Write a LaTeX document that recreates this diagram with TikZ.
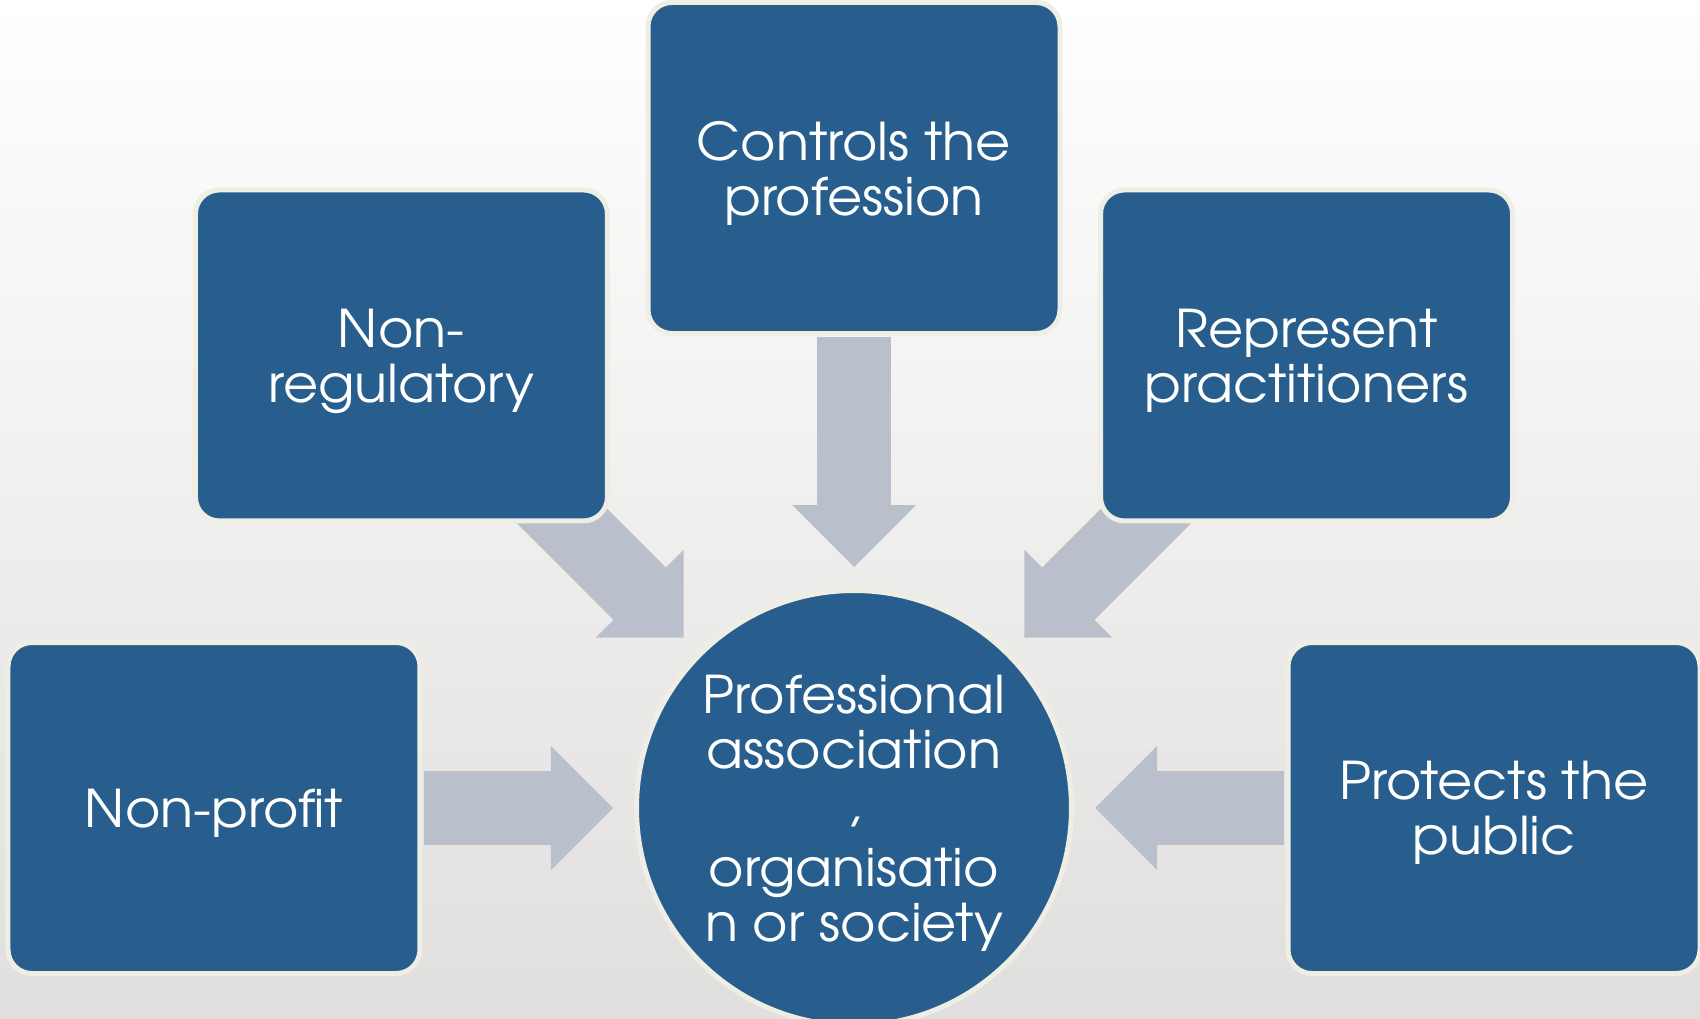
\documentclass[tikz,border=0pt]{standalone}
\usepackage{fontspec}
\setmainfont{texgyreadventor-regular.otf}[FakeStretch=1.04]
\usetikzlibrary{arrows.meta}

\definecolor{hubblue}{RGB}{40,94,142}
\definecolor{rimcream}{RGB}{239,238,229}
\definecolor{flowgray}{RGB}{185,191,203}
\definecolor{slidegray}{RGB}{224,223,221}

\pgfdeclarelayer{background}
\pgfsetlayers{background,main}

\begin{document}
\begin{tikzpicture}[
	box/.style = {draw=rimcream, line width=2.5pt, fill=hubblue, text=white,
		align=center, text depth=0pt, font=\fontsize{26}{27.5}\selectfont},
	item/.style = {box, rectangle, rounded corners=12pt, minimum width=206pt, minimum height=165.5pt},
	hub/.style = {box, circle, minimum size=217.5pt, inner sep=0pt},
	flow/.style = {draw=flowgray, line width=37pt,
		-{Triangle[width=62pt, length=31pt, line width=0pt]}},
]

	%% The slide itself: fixes the page and cuts off the hub at the bottom
	\useasboundingbox (-427pt,-105pt) rectangle (423pt,404pt);
	\clip (-427pt,-105pt) rectangle (423pt,404pt);

	%% The hub
	\node [hub] at (0,0) (hub) {Professional\\association\\,\\[4pt]organisatio\\n or society};

	%% The five boxes, on a ring round the hub
	\foreach \ang/\id/\txt in {%
		180/profit/{Non-profit},
		135/nonreg/{Non-\\regulatory},
		90/control/{Controls the\\profession},
		45/represent/{Represent\\practitioners},
		0/protect/{Protects the\\public}%
	}{%
		\node [item] at (\ang:320pt) (\id) {\txt};
	}

	%% Background and arrows sit behind the boxes
	\begin{pgfonlayer}{background}
		\shade [top color=white, bottom color=slidegray] (-427pt,-105pt) rectangle (423pt,404pt);
		\foreach \id/\gap in {profit/105pt, nonreg/100pt, control/84.5pt, represent/100pt, protect/105pt}{%
			\draw [flow, shorten <=\gap, shorten >=120.5pt] (\id.center) -- (hub.center);
		}
	\end{pgfonlayer}

\end{tikzpicture}
\end{document}
